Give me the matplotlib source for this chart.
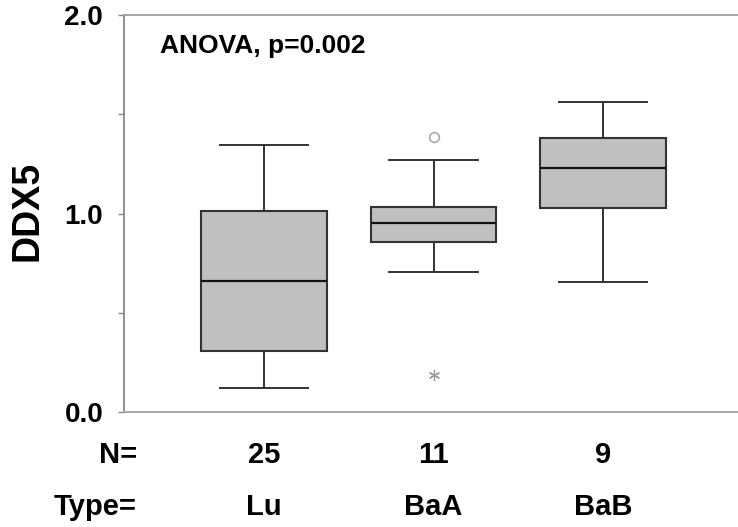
import matplotlib
matplotlib.use('Agg')
import matplotlib.pyplot as plt
import matplotlib.transforms as mtransforms

# data
types = ['Lu', 'BaA', 'BaB']
counts = [25, 11, 9]
whislo = [0.12, 0.707, 0.656]
q1 = [0.307, 0.858, 1.029]
med = [0.66, 0.951, 1.228]
q3 = [1.013, 1.033, 1.379]
whishi = [1.345, 1.268, 1.563]
outlier_group = ['BaA']
outlier_vals = [1.387]
extreme_group = ['BaA']
extreme_vals = [0.185]

plt.rcParams['font.family'] = ['Liberation Sans', 'DejaVu Sans']
plt.rcParams['font.weight'] = 'bold'

fig = plt.figure(figsize=(7.38, 5.27), dpi=100)
ax = fig.add_axes([124/738, 1 - 412/527, 1 - 124/738, 397/527])

pos = list(range(1, len(types) + 1))
stats = []
for i in range(len(types)):
	stats.append(dict(whislo=whislo[i], q1=q1[i], med=med[i], q3=q3[i],
	                  whishi=whishi[i], fliers=[], label=types[i]))

ax.bxp(stats, positions=pos, widths=0.74, capwidths=0.52, patch_artist=True,
       showfliers=False,
       boxprops=dict(facecolor='#c0c0c0', edgecolor='#333333', linewidth=1.5),
       medianprops=dict(color='#111111', linewidth=1.6),
       whiskerprops=dict(color='#333333', linewidth=1.4),
       capprops=dict(color='#333333', linewidth=1.4))

# outliers (circle) and extremes (star)
ox = [pos[types.index(g)] for g in outlier_group]
ax.plot(ox, outlier_vals, 'o', ms=7, mfc='white', mec='#aaaaaa', mew=1.2)
ex = [pos[types.index(g)] for g in extreme_group]
ax.plot(ex, extreme_vals, marker=(6, 2, 0), ls='none', ms=8, mec='#999999', mew=0.9)

ax.set_xlim(0.174, 3.796)
ax.set_ylim(0, 2.0)
ax.set_yticks([0, 0.5, 1.0, 1.5, 2.0])
ax.set_yticklabels(['0.0', '', '1.0', '', '2.0'], fontsize=20, fontweight='bold')
ax.tick_params(axis='y', direction='out', length=4, width=1, color='#888888', pad=11)
ax.set_xticks([])

ax.spines['right'].set_visible(False)
ax.spines['left'].set_color('#888888')
ax.spines['top'].set_color('#a0a0a0')
ax.spines['bottom'].set_color('#a0a0a0')
for s in ['left', 'top', 'bottom']:
	ax.spines[s].set_linewidth(1.3)

ax.text(0.058, 0.922, 'ANOVA, p=0.002', transform=ax.transAxes, fontsize=19,
        fontweight='bold', ha='left', va='center')

fig.text(27/738, 1 - 211/527, 'DDX5', rotation=90, fontsize=27, fontweight='bold',
         ha='center', va='center')

# N= and Type= rows under the plot
trans = mtransforms.blended_transform_factory(ax.transData, fig.transFigure)
fig.text(137/738, 1 - 455/527, 'N=', fontsize=21, fontweight='bold', ha='right', va='center')
fig.text(137/738, 1 - 507/527, 'Type=', fontsize=21, fontweight='bold', ha='right', va='center')
for p, n, t in zip(pos, counts, types):
	ax.text(p, 1 - 455/527, str(n), transform=trans, fontsize=21, fontweight='bold',
	        ha='center', va='center', clip_on=False)
	ax.text(p, 1 - 507/527, t, transform=trans, fontsize=21, fontweight='bold',
	        ha='center', va='center', clip_on=False)

fig.savefig('out.png', dpi=100)
